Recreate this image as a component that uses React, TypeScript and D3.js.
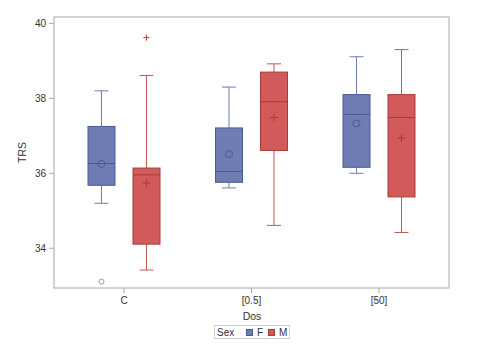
import React from "react";
import * as d3 from "d3";

const categories = ["C", "[0.5]", "[50]"];
const sexes = ["F", "M"];
const yTicks = [34, 36, 38, 40];

// per category, per sex: [whiskerLow, q1, median, q3, whiskerHigh, mean]
const statsF = [
  [35.2, 35.68, 36.26, 37.25, 38.2, 36.25],
  [35.61, 35.76, 36.05, 37.21, 38.3, 36.51],
  [36.0, 36.16, 37.57, 38.1, 39.11, 37.33],
];
const statsM = [
  [33.42, 34.11, 35.96, 36.14, 38.61, 35.74],
  [34.61, 36.61, 37.91, 38.7, 38.92, 37.49],
  [34.42, 35.37, 37.49, 38.1, 39.3, 36.94],
];
const outliersF = [[33.11], [], []];
const outliersM = [[39.62], [], []];

const W = 487, H = 351;
const L = 54, R = 449, T = 17, B = 288;

const colors = {
  F: { fill: "#6F7DB4", edge: "#4A5A96", whisker: "#6F7DB4", out: "#8C99C8" },
  M: { fill: "#D15B5B", edge: "#A93A35", whisker: "#C8554F", out: "#C0392B" },
};

export default function App() {
  const x = d3.scalePoint<string>().domain(categories).range([L, R]).padding(0.549);
  const y = d3.scaleLinear().domain([32.94, 40.17]).range([B, T]);
  const off = d3.scalePoint<string>().domain(sexes).range([-22.5, 22.5]);
  const bw = 27;
  const capW = 14;
  const font = "'Liberation Sans', Arial, sans-serif";

  const boxes: JSX.Element[] = [];
  categories.forEach((c, i) => {
    sexes.forEach((s) => {
      const st = s === "F" ? statsF[i] : statsM[i];
      const outs = s === "F" ? outliersF[i] : outliersM[i];
      const col = s === "F" ? colors.F : colors.M;
      const cx = (x(c) as number) + (off(s) as number);
      const [lo, q1, med, q3, hi, mean] = st;
      const my = y(mean);
      boxes.push(
        <g key={c + s}>
          <line x1={cx} x2={cx} y1={y(q3)} y2={y(hi)} stroke={col.whisker} strokeWidth={1} />
          <line x1={cx} x2={cx} y1={y(q1)} y2={y(lo)} stroke={col.whisker} strokeWidth={1} />
          <line x1={cx - capW / 2} x2={cx + capW / 2} y1={y(hi)} y2={y(hi)} stroke={col.whisker} strokeWidth={1} />
          <line x1={cx - capW / 2} x2={cx + capW / 2} y1={y(lo)} y2={y(lo)} stroke={col.whisker} strokeWidth={1} />
          <rect x={cx - bw / 2} y={y(q3)} width={bw} height={y(q1) - y(q3)} fill={col.fill} stroke={col.edge} strokeWidth={1} />
          <line x1={cx - bw / 2} x2={cx + bw / 2} y1={y(med)} y2={y(med)} stroke={col.edge} strokeWidth={1} />
          {s === "F" ? (
            <circle cx={cx} cy={my} r={3.5} fill="none" stroke={col.edge} strokeWidth={1} />
          ) : (
            <path d={`M${cx - 4},${my}H${cx + 4}M${cx},${my - 4}V${my + 4}`} stroke={col.edge} strokeWidth={1} />
          )}
          {outs.map((o, k) =>
            s === "F" ? (
              <circle key={k} cx={cx} cy={y(o)} r={2.5} fill="none" stroke={col.out} strokeWidth={1} />
            ) : (
              <path key={k} d={`M${cx - 3},${y(o)}H${cx + 3}M${cx},${y(o) - 3}V${y(o) + 3}`} stroke={col.out} strokeWidth={1} />
            )
          )}
        </g>
      );
    });
  });

  return (
    <svg width={W} height={H} style={{ position: "absolute", left: 0, top: 0 }} fontFamily={font}>
      <rect x={0} y={0} width={W} height={H} fill="#fff" />
      {boxes}
      <rect x={L} y={T} width={R - L} height={B - T} fill="none" stroke="#A8A8A8" strokeWidth={1} />
      {yTicks.map((t) => (
        <g key={t}>
          <line x1={L - 5} x2={L} y1={y(t)} y2={y(t)} stroke="#A8A8A8" />
          <text x={L - 8} y={y(t)} dy="0.35em" textAnchor="end" fontSize={10} fill="#333">
            {t}
          </text>
        </g>
      ))}
      {categories.map((c) => (
        <g key={c}>
          <line x1={x(c)} x2={x(c)} y1={B} y2={B + 5} stroke="#A8A8A8" />
          <text x={x(c)} y={300} dy="0.35em" textAnchor="middle" fontSize={10} fill="#333">
            {c}
          </text>
        </g>
      ))}
      <text x={252} y={316} dy="0.35em" textAnchor="middle" fontSize={10.5} fill="#333">
        Dos
      </text>
      <text transform={`translate(22,${(T + B) / 2}) rotate(-90)`} textAnchor="middle" dy="0.35em" fontSize={10.5} fill="#333">
        TRS
      </text>
      <g>
        <rect x={214.5} y={325.5} width={75} height={13} fill="#fff" stroke="#D0D0D0" />
        <text x={217} y={332} dy="0.35em" fontSize={10} fill="#333">Sex</text>
        <rect x={246.5} y={329.5} width={6} height={6} fill={colors.F.fill} stroke={colors.F.edge} />
        <text x={257} y={332} dy="0.35em" fontSize={10} fill="#333">F</text>
        <rect x={268.5} y={329.5} width={6} height={6} fill={colors.M.fill} stroke={colors.M.edge} />
        <text x={279} y={332} dy="0.35em" fontSize={10} fill="#333">M</text>
      </g>
    </svg>
  );
}
